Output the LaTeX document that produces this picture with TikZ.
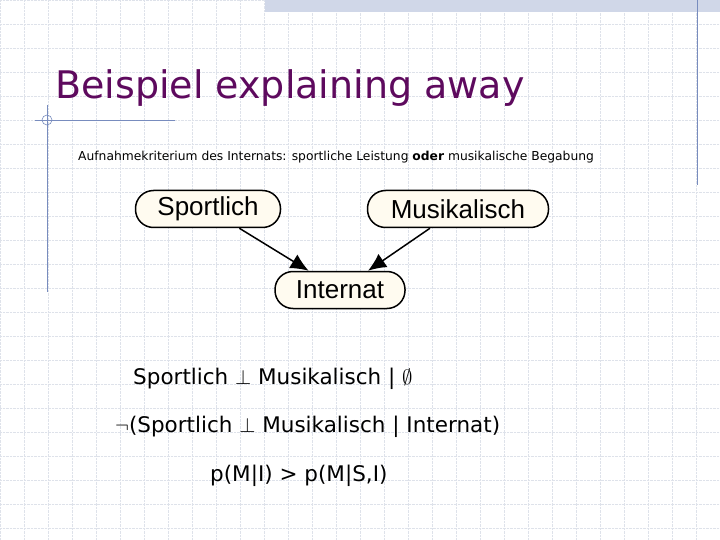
\documentclass[tikz,border=0pt]{standalone}
\usepackage{fontspec}
\setmainfont{DejaVu Sans}
\newfontfamily\arialfont{Liberation Sans}
\usetikzlibrary{arrows.meta}
\definecolor{titlepurple}{RGB}{94,10,94}
\definecolor{gridline}{RGB}{222,226,234}
\definecolor{decoline}{RGB}{120,140,190}
\definecolor{nodefill}{RGB}{255,251,240}
\begin{document}
\begin{tikzpicture}[x=1pt,y=-1pt]
	\tikzstyle{var} = [draw,line width=1.5pt,rounded corners=18pt,fill=nodefill,minimum height=37pt,font=\arialfont\fontsize{26}{30}\selectfont,inner xsep=12pt]
	\tikzstyle{edge} = [-{Latex[length=18pt,width=16pt]},line width=1.5pt]
	\tikzstyle{formula} = [anchor=west,inner sep=0pt,font=\fontsize{21.5}{26}\selectfont]
		
		\useasboundingbox (0,0) rectangle (720,540);
		\fill[white] (0,0) rectangle (720,540);
		\foreach \g in {0,24,...,720} \draw[gridline,densely dotted,line width=0.4pt] (\g,0) -- (\g,540);
		\foreach \g in {0,24,...,540} \draw[gridline,densely dotted,line width=0.4pt] (0,\g) -- (720,\g);
		\fill[decoline!35] (265,0) rectangle (720,12);
		\draw[decoline,line width=0.8pt] (697,0) -- (697,185);
		\draw[decoline,line width=0.8pt] (47,105) -- (47,292);
		\draw[decoline,line width=0.8pt] (35,120) -- (175,120);
		\draw[decoline,line width=0.6pt] (47,120) circle (5);
		
		\node[anchor=west,inner sep=0pt,titlepurple,font=\fontsize{38}{44}\selectfont] (title) at (55,88) {Beispiel explaining away};
		\node[anchor=west,inner sep=0pt,font=\fontsize{12.3}{15}\selectfont] (crit) at (78,157) {Aufnahmekriterium des Internats: sportliche Leistung \textbf{oder} musikalische Begabung};
		
		\node[var,minimum width=145pt] (sport) at (208,209) {Sportlich};
		\node[var,minimum width=181pt] (musik) at (458,209) {Musikalisch};
		\node[var,minimum width=130pt] (internat) at (340,290) {Internat};
		\draw[edge] (sport) -- (internat);
		\draw[edge] (musik) -- (internat);
		
		\node[formula] (f1) at (133,379) {Sportlich $\perp$ Musikalisch | $\emptyset$};
		\node[formula] (f2) at (115,427) {$\neg$(Sportlich $\perp$ Musikalisch | Internat)};
		\node[formula] (f3) at (210,476) {p(M|I) > p(M|S,I)};
		
\end{tikzpicture}
\end{document}
